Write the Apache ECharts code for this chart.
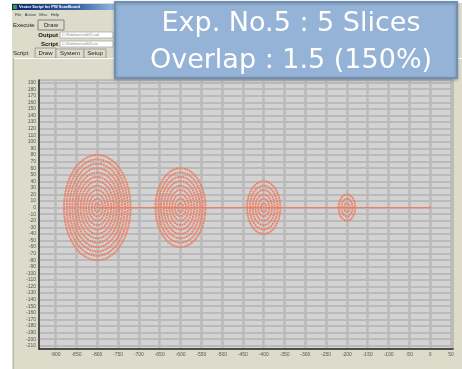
<!DOCTYPE html>
<html>
<head>
<meta charset="utf-8">
<script src="https://cdn.jsdelivr.net/npm/echarts@6/dist/echarts.min.js"></script>
<style>
  html, body { margin: 0; padding: 0; background: #ffffff; }
  #chart { width: 462px; height: 369px; }
</style>
</head>
<body>
<div id="chart"></div>
<script>
// Slice centres along the scan line (x), outer radius of each slice and how many rings it holds
const sliceCenters = [-800, -600, -400, -200, 0];
const sliceRadii = [80, 60, 40, 20, 0];
const ringCounts = [12, 9, 6, 3, 0];

// Tick labels printed on the two axes
const xTickLabels = [-900, -850, -800, -750, -700, -650, -600, -550, -500, -450,
                     -400, -350, -300, -250, -200, -150, -100, -50, 0, 50];
const yTickLabels = [190, 180, 170, 160, 150, 140, 130, 120, 110, 100, 90, 80, 70, 60, 50,
                     40, 30, 20, 10, 0, -10, -20, -30, -40, -50, -60, -70, -80, -90, -100,
                     -110, -120, -130, -140, -150, -160, -170, -180, -190, -200, -210];

// Heading shown in the callout box
const headingLines = ['Exp. No.5 : 5 Slices', 'Overlap : 1.5 (150%)'];

// Rings of every slice: [centre x, centre y, radius]
const rings = [];
sliceCenters.forEach((cx, i) => {
  const n = ringCounts[i];
  for (let k = 1; k <= n; k++) {
    rings.push([cx, 0, sliceRadii[i] * k / n]);
  }
});
const scanLine = sliceCenters.map(x => [x, 0]);

const BEIGE = '#dddccb';
const uiFont = 'Liberation Sans';
const headFont = '27px "DejaVu Sans"';

const chart = echarts.init(document.getElementById('chart'), null, { renderer: 'canvas' });

// Window chrome around the plot
const chrome = [
  // window body
  { type: 'rect', z: -10, shape: { x: 12, y: 3, width: 450, height: 366 }, style: { fill: BEIGE } },
  // title bar
  { type: 'rect', z: -9, shape: { x: 12, y: 4, width: 110, height: 6 },
    style: { fill: new echarts.graphic.LinearGradient(0, 0, 1, 0, [
      { offset: 0, color: '#0a246a' }, { offset: 0.6, color: '#3a63a8' }, { offset: 1, color: '#a6caf0' }]) } },
  { type: 'rect', z: -8, shape: { x: 13, y: 5, width: 4, height: 4 }, style: { fill: '#3c9a3c' } },
  { type: 'text', z: -8, style: { x: 19, y: 7, text: 'Vector Script for PW ScanBoard', fill: '#ffffff',
      font: 'bold 4px ' + uiFont, verticalAlign: 'middle' } },
  // menu
  { type: 'text', z: -8, style: { x: 15, y: 15, text: 'File   Action   Misc   Help', fill: '#333333',
      font: '4px ' + uiFont, verticalAlign: 'middle' } },
  // toolbar buttons
  { type: 'text', z: -8, style: { x: 13, y: 25, text: 'Execute', fill: '#222222',
      font: '6px ' + uiFont, verticalAlign: 'middle' } },
  { type: 'rect', z: -8, shape: { x: 38, y: 20, width: 26, height: 10 },
    style: { fill: BEIGE, stroke: '#808080', lineWidth: 1 } },
  { type: 'text', z: -7, style: { x: 51, y: 25, text: 'Draw', fill: '#222222',
      font: '6px ' + uiFont, align: 'center', verticalAlign: 'middle' } },
  // path fields
  { type: 'text', z: -8, style: { x: 58, y: 35, text: 'Output', fill: '#111111',
      font: 'bold 6px ' + uiFont, align: 'right', verticalAlign: 'middle' } },
  { type: 'rect', z: -8, shape: { x: 60, y: 32, width: 53, height: 6 },
    style: { fill: '#ffffff', stroke: '#a0a0a0', lineWidth: 0.7 } },
  { type: 'text', z: -7, style: { x: 62, y: 35, text: 'C:\\Sim\\vector005.vel', fill: '#888888',
      font: '4px ' + uiFont, verticalAlign: 'middle' } },
  { type: 'text', z: -8, style: { x: 58, y: 44, text: 'Script', fill: '#111111',
      font: 'bold 6px ' + uiFont, align: 'right', verticalAlign: 'middle' } },
  { type: 'rect', z: -8, shape: { x: 60, y: 41, width: 53, height: 6 },
    style: { fill: '#ffffff', stroke: '#a0a0a0', lineWidth: 0.7 } },
  { type: 'text', z: -7, style: { x: 62, y: 44, text: 'C:\\Sim\\vector005.vs', fill: '#888888',
      font: '4px ' + uiFont, verticalAlign: 'middle' } },
  // tabs
  { type: 'rect', z: -8, shape: { x: 35, y: 48, width: 21, height: 10 },
    style: { fill: BEIGE, stroke: '#909090', lineWidth: 0.8 } },
  { type: 'rect', z: -8, shape: { x: 56, y: 49, width: 28, height: 9 },
    style: { fill: BEIGE, stroke: '#909090', lineWidth: 0.8 } },
  { type: 'rect', z: -8, shape: { x: 84, y: 49, width: 22, height: 9 },
    style: { fill: BEIGE, stroke: '#909090', lineWidth: 0.8 } },
  { type: 'text', z: -7, style: { x: 13, y: 53, text: 'Script', fill: '#222222',
      font: '6px ' + uiFont, verticalAlign: 'middle' } },
  { type: 'text', z: -7, style: { x: 45.5, y: 53, text: 'Draw', fill: '#222222',
      font: '6px ' + uiFont, align: 'center', verticalAlign: 'middle' } },
  { type: 'text', z: -7, style: { x: 70, y: 53.5, text: 'System', fill: '#222222',
      font: '6px ' + uiFont, align: 'center', verticalAlign: 'middle' } },
  { type: 'text', z: -7, style: { x: 95, y: 53.5, text: 'Setup', fill: '#222222',
      font: '6px ' + uiFont, align: 'center', verticalAlign: 'middle' } },
  // tab page border
  { type: 'line', z: -8, shape: { x1: 13, y1: 58.5, x2: 462, y2: 58.5 }, style: { stroke: '#ffffff', lineWidth: 1 } },
  { type: 'line', z: -8, shape: { x1: 13.5, y1: 58, x2: 13.5, y2: 369 }, style: { stroke: '#b8b8a8', lineWidth: 1 } },
  // callout box with the heading
  { type: 'rect', z: 50, shape: { x: 115, y: 2, width: 342, height: 76 },
    style: { fill: '#95b3d7', stroke: '#6e8fb6', lineWidth: 2, shadowBlur: 3, shadowColor: 'rgba(0,0,0,0.25)', shadowOffsetY: 1 } },
  { type: 'text', z: 51, style: { x: 291, y: 24, text: headingLines[0], fill: '#ffffff',
      font: headFont, align: 'center', verticalAlign: 'middle' } },
  { type: 'text', z: 51, style: { x: 291, y: 61, text: headingLines[1], fill: '#ffffff',
      font: headFont, align: 'center', verticalAlign: 'middle' } }
];

const xLabelSet = new Set(xTickLabels);
const yLabelSet = new Set(yTickLabels);

chart.setOption({
  animation: false,
  backgroundColor: '#ffffff',
  graphic: { elements: chrome },
  grid: {
    left: 39, right: 9, top: 80, bottom: 20,
    show: true, backgroundColor: '#d3d3d3', borderColor: '#a2a2a2', borderWidth: 1,
    outerBoundsMode: 'none'
  },
  xAxis: {
    type: 'value', min: -940, max: 55, interval: 10,
    axisLine: { show: true, onZero: false, lineStyle: { color: '#2a2a2a', width: 1.5 } },
    axisTick: { show: false },
    axisLabel: {
      color: '#555555', fontSize: 5, fontFamily: uiFont, margin: 3,
      formatter: v => (xLabelSet.has(v) ? String(v) : '')
    },
    splitLine: {
      show: true,
      lineStyle: { width: 2.5, color: ['transparent', 'transparent', 'transparent', 'transparent', '#bababa'] }
    }
  },
  yAxis: {
    type: 'value', min: -215, max: 194, interval: 5,
    axisLine: { show: true, onZero: false, lineStyle: { color: '#2a2a2a', width: 1.5 } },
    axisTick: { show: false },
    axisLabel: {
      color: '#555555', fontSize: 5, fontFamily: uiFont, margin: 3,
      formatter: v => (yLabelSet.has(v) ? String(v) : '')
    },
    splitLine: {
      show: true,
      lineStyle: { width: 2, color: ['transparent', '#bababa'] }
    }
  },
  series: [
    {
      type: 'line',
      data: scanLine,
      symbol: 'circle', symbolSize: 2,
      itemStyle: { color: '#ea7a60' },
      lineStyle: { color: '#ea8068', width: 1.2 },
      z: 2
    },
    {
      type: 'custom',
      data: rings,
      encode: { x: 0, y: 1 },
      z: 3,
      renderItem: (params, api) => {
        const c = api.coord([api.value(0), api.value(1)]);
        const s = api.size([api.value(2), api.value(2)]);
        return {
          type: 'ellipse',
          shape: { cx: c[0], cy: c[1], rx: s[0], ry: s[1] },
          style: { fill: 'transparent', stroke: '#f07a5c', lineWidth: 1.9, lineDash: [2, 0.6], opacity: 0.9 }
        };
      }
    }
  ]
});
</script>
</body>
</html>
